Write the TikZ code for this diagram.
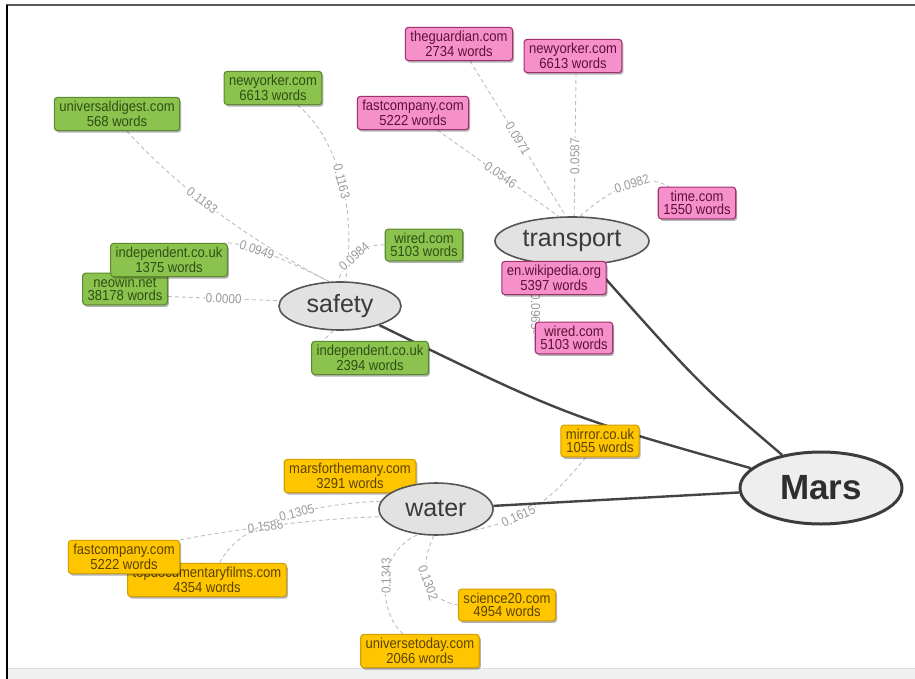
\documentclass[tikz,border=0pt]{standalone}
\usepackage{fontspec}
\setmainfont{Liberation Sans}
\newfontfamily\sitefont{Liberation Sans}[FakeStretch=0.9]
\usetikzlibrary{shapes.geometric,shadows,calc}
\pgfdeclarelayer{edges}
\pgfsetlayers{edges,main}
\definecolor{gfill}{HTML}{8CC34E}
\definecolor{gdraw}{HTML}{5A8A2C}
\definecolor{gtext}{HTML}{2F4F14}
\definecolor{pfill}{HTML}{F690CB}
\definecolor{pdraw}{HTML}{A0306C}
\definecolor{ptext}{HTML}{5E1038}
\definecolor{yfill}{HTML}{FFC600}
\definecolor{ydraw}{HTML}{D4A000}
\definecolor{ytext}{HTML}{5A4300}
\definecolor{efill}{HTML}{E2E2E2}
\definecolor{edraw}{HTML}{555555}
\definecolor{etext}{HTML}{3A3A3A}
\definecolor{dashc}{HTML}{BDBDBD}
\definecolor{lblc}{HTML}{9A9A9A}
\definecolor{solidc}{HTML}{444444}
\tikzset{
  site/.style={rectangle, rounded corners=3pt, line width=1.1pt, align=center,
    inner xsep=5pt, inner ysep=4pt, font=\sitefont\fontsize{14.5}{13}\selectfont,
    drop shadow={shadow xshift=1.5pt, shadow yshift=-2pt, opacity=0.3, fill=black}},
  gsite/.style={site, fill=gfill, draw=gdraw, text=gtext},
  psite/.style={site, fill=pfill, draw=pdraw, text=ptext},
  ysite/.style={site, fill=yfill, draw=ydraw, text=ytext},
  topic/.style={ellipse, draw=edraw, fill=efill, line width=1.6pt, text=etext,
    inner sep=0pt, font=\fontsize{25}{30}\selectfont},
  hub/.style={ellipse, draw=edraw!70!black, fill=efill!60!white, line width=3pt,
    text=etext!80!black, inner sep=0pt, font=\fontsize{35}{40}\selectfont\bfseries},
  wedge/.style={draw=dashc, line width=0.9pt, dash pattern=on 4pt off 3pt},
  lbl/.style={fill=white, inner sep=0.6pt, text=lblc, font=\sitefont\fontsize{13}{13}\selectfont},
  slbl/.style={lbl, sloped},
  strong/.style={draw=solidc, line width=2.4pt},
}
\begin{document}
\begin{tikzpicture}[x=1pt,y=-1pt]
\useasboundingbox (0,0) rectangle (915,679);
% frame
\fill[gray!12] (7,668) rectangle (915,679);
\draw[gray!25, line width=0.8pt] (7,668) -- (915,668);
\draw[black!65, line width=1.2pt] (6,5) -- (915,5);
\draw[black, line width=2pt] (6.5,5) -- (6.5,679);

% green cluster
\node[gsite] (gUD) at (117,114) {universaldigest.com\\568 words};
\node[gsite] (gNY) at (273,88) {newyorker.com\\6613 words};
\node[gsite] (gW) at (424,245) {wired.com\\5103 words};
\node[gsite] (gNW) at (125,289) {neowin.net\\38178 words};
\node[gsite] (gI1) at (169,260) {independent.co.uk\\1375 words};
\node[topic, minimum width=122pt, minimum height=48pt] (safety) at (340,306) {safety};
\node[gsite] (gI2) at (370,358) {independent.co.uk\\2394 words};

% pink cluster
\node[psite] (pTG) at (459,44) {theguardian.com\\2734 words};
\node[psite] (pNY) at (573,56) {newyorker.com\\6613 words};
\node[psite] (pFC) at (413,113) {fastcompany.com\\5222 words};
\node[psite] (pT) at (697,203) {time.com\\1550 words};
\node[topic, minimum width=154pt, minimum height=48pt] (transport) at (572,241) {transport};
\node[psite] (pEW) at (554,278) {en.wikipedia.org\\5397 words};
\node[psite] (pW) at (574,338) {wired.com\\5103 words};

% yellow cluster
\node[ysite] (yM) at (600,441) {mirror.co.uk\\1055 words};
\node[ysite] (yMF) at (350,476) {marsforthemany.com\\3291 words};
\node[topic, minimum width=114pt, minimum height=52pt] (water) at (436,509) {water};
\node[ysite] (yTD) at (207,580) {topdocumentaryfilms.com\\4354 words};
\node[ysite] (yFC) at (124,557) {fastcompany.com\\5222 words};
\node[ysite] (yS) at (507,605) {science20.com\\4954 words};
\node[ysite] (yU) at (420,651) {universetoday.com\\2066 words};

\node[hub, minimum width=162pt, minimum height=72pt] (Mars) at (821,488) {Mars};

\begin{pgfonlayer}{edges}
% green edges
\draw[wedge] (gUD.-60) .. controls (180,190) and (250,240) .. (safety.115) node[slbl,pos=0.42]{0.1183};
\draw[wedge] (gI1.north east) .. controls (250,244) and (290,262) .. (safety.113) node[slbl,pos=0.35]{0.0949};
\draw[wedge] (gNW.350) -- (safety.175) node[slbl,pos=0.5]{0.0000};
\draw[wedge] (gNY.-35) .. controls (340,140) and (357,215) .. (safety.78) node[slbl,pos=0.5]{0.1163};
\draw[wedge] (gW.west) .. controls (365,243) and (345,260) .. (safety.95) node[slbl,pos=0.55]{0.0984};
\draw[wedge] (safety.255) -- (gI2.160);
% pink edges
\draw[wedge] (pFC.-35) -- (transport.118) node[slbl,pos=0.52]{0.0546};
\draw[wedge] (pTG.-57) -- (transport.104) node[slbl,pos=0.5]{0.0971};
\draw[wedge] (pNY.-80) -- (transport.85) node[lbl,rotate=90,pos=0.58]{0.0587};
\draw[wedge] (transport.72) .. controls (612,188) and (645,172) .. (pT.150) node[slbl,pos=0.55]{0.0982};
\draw[wedge] (transport.239) .. controls (532,300) and (532,330) .. (pW.west) node[lbl,rotate=-90,pos=0.5]{0.0965};
% yellow edges
\draw[wedge] (yM.-131) .. controls (560,488) and (535,520) .. (water.-34) node[slbl,pos=0.7]{0.1615};
\draw[wedge] (yFC.north east) .. controls (230,530) and (320,518) .. (water.188) node[slbl,pos=0.45]{0.1588};
\draw[wedge] (yTD.53) .. controls (235,530) and (290,505) .. (water.172) node[slbl,pos=0.64]{0.1305};
\draw[wedge] (yU.135) .. controls (377,610) and (377,552) .. (water.235) node[lbl,rotate=90,pos=0.55]{0.1343};
\draw[wedge] (water.265) .. controls (418,570) and (425,600) .. (yS.west) node[slbl,pos=0.52]{0.1302};
% strong edges
\draw[strong] (safety) .. controls (566,416) .. (Mars);
\draw[strong] (transport) .. controls (700,385) .. (Mars);
\draw[strong] (water) -- (Mars);
\end{pgfonlayer}
\end{tikzpicture}
\end{document}
